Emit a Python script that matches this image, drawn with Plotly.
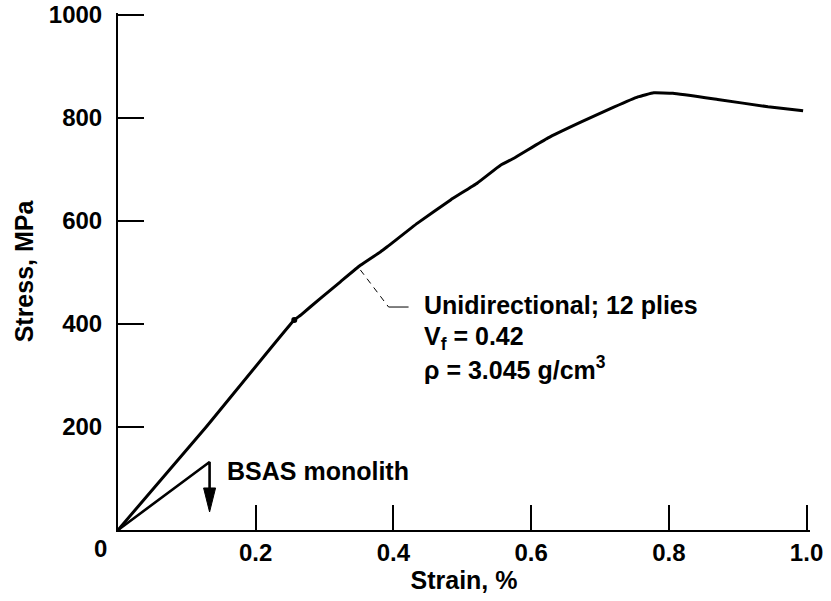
import plotly.graph_objects as go

# Unidirectional composite (12 plies) stress-strain curve
strain_uni = [0.0, 0.128, 0.256, 0.265, 0.294, 0.323, 0.352, 0.381, 0.391, 0.435,
              0.483, 0.522, 0.556, 0.575, 0.624, 0.672, 0.720, 0.755, 0.778, 0.806,
              0.871, 0.944, 0.995]
stress_uni = [0, 200, 408, 417, 450, 482, 514, 540, 550, 596,
              641, 674, 709, 722, 761, 792, 821, 841, 849, 848,
              836, 822, 814]

# BSAS monolith curve (with vertical drop line to arrow)
strain_mono = [0.0, 0.133, 0.133]
stress_mono = [0, 132, 80]
mono_arrow_tip = (0.133, 35)

# marked point on composite curve
dot_strain = [0.256]
dot_stress = [408]

# leader line for the composite annotation
leader_dash_x = [0.352, 0.393]
leader_dash_y = [505, 433]
leader_solid_x = [0.393, 0.422]
leader_solid_y = [433, 433]

x_ticks = [0.2, 0.4, 0.6, 0.8, 1.0]
x_ticktext = ["0.2", "0.4", "0.6", "0.8", "1.0"]
y_ticks = [200, 400, 600, 800, 1000]
y_ticktext = ["200", "400", "600", "800", "1000"]

# ranges extended a hair so the end ticks (1.0 / 1000) are not clipped by plotly
x_range = [0, 1.005]
y_range = [0, 1004]

FONT = "Liberation Sans, Arial, Helvetica, sans-serif"
tick_size = 24
ann_size = 25
title_size = 25

fig = go.Figure()
fig.add_trace(go.Scatter(x=strain_uni, y=stress_uni, mode="lines",
                         line=dict(color="black", width=3, shape="spline", smoothing=0.3),
                         showlegend=False))
fig.add_trace(go.Scatter(x=strain_mono, y=stress_mono, mode="lines",
                         line=dict(color="black", width=2.6), showlegend=False))
fig.add_trace(go.Scatter(x=dot_strain, y=dot_stress, mode="markers",
                         marker=dict(color="black", size=6), showlegend=False))
fig.add_trace(go.Scatter(x=leader_dash_x, y=leader_dash_y, mode="lines",
                         line=dict(color="black", width=1, dash="6px,5px"), showlegend=False))
fig.add_trace(go.Scatter(x=leader_solid_x, y=leader_solid_y, mode="lines",
                         line=dict(color="black", width=1), showlegend=False))

# arrow head for BSAS monolith
fig.add_shape(type="path", xref="x", yref="y", xsizemode="pixel", ysizemode="pixel",
              xanchor=mono_arrow_tip[0], yanchor=mono_arrow_tip[1],
              path="M0,0 L-6,24 L6,24 Z", fillcolor="black", line=dict(color="black", width=1))

txt_font = dict(family=FONT, size=ann_size, color="black", weight="bold")
fig.add_annotation(x=0.442, y=437, xref="x", yref="y", text="Unidirectional; 12 plies",
                   showarrow=False, xanchor="left", yanchor="middle", font=txt_font)
fig.add_annotation(x=0.442, y=373, xref="x", yref="y", text="V<sub>f</sub> = 0.42",
                   showarrow=False, xanchor="left", yanchor="middle", font=txt_font)
fig.add_annotation(x=0.442, y=315, xref="x", yref="y", text="ρ = 3.045 g/cm<sup>3</sup>",
                   showarrow=False, xanchor="left", yanchor="middle", font=txt_font)
fig.add_annotation(x=0.156, y=114, xref="x", yref="y", text="BSAS monolith",
                   showarrow=False, xanchor="left", yanchor="middle", font=txt_font)
fig.add_annotation(x=0, y=0, xref="x", yref="y", text="0", xshift=-18, yshift=-18,
                   showarrow=False, xanchor="center", yanchor="middle",
                   font=dict(family=FONT, size=tick_size, color="black", weight="bold"))

fig.update_xaxes(range=x_range, tickvals=x_ticks, ticktext=x_ticktext,
                 showline=True, linecolor="black", linewidth=2,
                 ticks="inside", ticklen=25, tickwidth=2, tickcolor="black",
                 showgrid=False, zeroline=False, automargin=False, ticklabeloverflow="allow",
                 tickfont=dict(family=FONT, size=tick_size, color="black", weight="bold"),
                 title=dict(text="Strain, %",
                            font=dict(family=FONT, size=title_size, color="black", weight="bold"),
                            standoff=1))
fig.update_yaxes(range=y_range, tickvals=y_ticks, ticktext=y_ticktext,
                 showline=True, linecolor="black", linewidth=2,
                 ticks="inside", ticklen=26, tickwidth=2, tickcolor="black",
                 showgrid=False, zeroline=False, automargin=False, ticklabelstandoff=9,
                 ticklabeloverflow="allow",
                 tickfont=dict(family=FONT, size=tick_size, color="black", weight="bold"),
                 title=dict(text="Stress, MPa",
                            font=dict(family=FONT, size=title_size, color="black", weight="bold"),
                            standoff=8))

fig.update_layout(width=831, height=601, margin=dict(l=118, r=21, t=13, b=71),
                  paper_bgcolor="white", plot_bgcolor="white", showlegend=False)

# remove the browser's default 8px body margin so the figure fills the window exactly
fig.write_html("out.html", config={"displayModeBar": False},
               post_script="document.body.style.margin='0';")
